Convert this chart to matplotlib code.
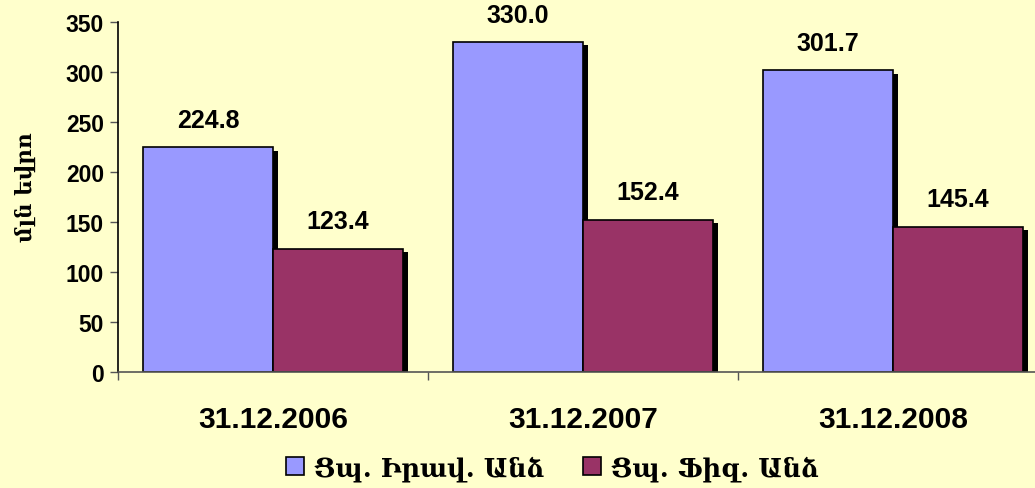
import matplotlib
matplotlib.use("Agg")
import matplotlib.pyplot as plt
import matplotlib.patheffects as pe
import numpy as np

categories = ["31.12.2006", "31.12.2007", "31.12.2008"]
series_names = ["Ցպ. Իրավ. Անձ", "Ցպ. Ֆիզ. Անձ"]
legal = [224.8, 330.0, 301.7]
physical = [123.4, 152.4, 145.4]
yticks = [0, 50, 100, 150, 200, 250, 300, 350]
ylabel = "մլն եվրո"

bg = "#FFFFCC"
colors = ["#9999FF", "#993366"]
armen = ["DejaVu Serif", "DejaVu Sans"]

fig = plt.figure(figsize=(10.35, 4.89), dpi=100, facecolor=bg)
ax = fig.add_axes([118/1035, 116/489, 930/1035, 350/489])
ax.set_facecolor(bg)

x = np.arange(len(categories))
w = 0.419
shadow = [pe.SimplePatchShadow(offset=(3.5, -2.5), shadow_rgbFace="black", alpha=1.0), pe.Normal()]
b1 = ax.bar(x - w/2, legal, w, color=colors[0], edgecolor="black", linewidth=1.2,
            path_effects=shadow, label=series_names[0])
b2 = ax.bar(x + w/2, physical, w, color=colors[1], edgecolor="black", linewidth=1.2,
            path_effects=shadow, label=series_names[1])

for bars, vals in ((b1, legal), (b2, physical)):
    for r, v in zip(bars, vals):
        ax.annotate(f"{v:.1f}", (r.get_x() + r.get_width()/2, v), xytext=(0, 11),
                    textcoords="offset points", ha="center", va="bottom",
                    fontsize=18, fontweight="bold", family="Liberation Sans")

ax.set_xlim(-0.5, 2.5)
ax.set_ylim(0, 350)
ax.set_yticks(yticks)
ax.set_yticklabels([str(t) for t in yticks], fontsize=16.5, fontweight="bold", family="Liberation Sans")
ax.tick_params(axis="y", length=6, width=1, color="#555555", pad=4)

ax.set_xticks(x)
ax.set_xticklabels(categories, fontsize=21.5, fontweight="bold", family="Liberation Sans")
ax.tick_params(axis="x", which="major", length=0, pad=24)
ax.set_xticks(np.arange(len(categories) + 1) - 0.5, minor=True)
ax.tick_params(axis="x", which="minor", length=6, width=1, color="#555555")

for s in ("top", "right"):
    ax.spines[s].set_visible(False)
ax.spines["left"].set_color("black")
ax.spines["bottom"].set_color("#555555")
ax.spines["left"].set_linewidth(1.2)
ax.spines["bottom"].set_linewidth(1.2)

fig.text(26/1035, 1 - 187/489, ylabel, rotation=90, ha="center", va="center",
         fontsize=15.5, fontweight="bold", family=armen)

leg = fig.legend(handles=[b1, b2], labels=series_names, loc="center",
                 bbox_to_anchor=(552/1035, 1 - 469/489), ncol=2, frameon=False,
                 prop={"family": armen, "size": 18.5, "weight": "bold"}, handlelength=0.7,
                 handleheight=0.7, handletextpad=0.4, columnspacing=1.5)
for h in leg.legend_handles:
    h.set_path_effects([])

fig.savefig("out.png", dpi=100, facecolor=bg)
